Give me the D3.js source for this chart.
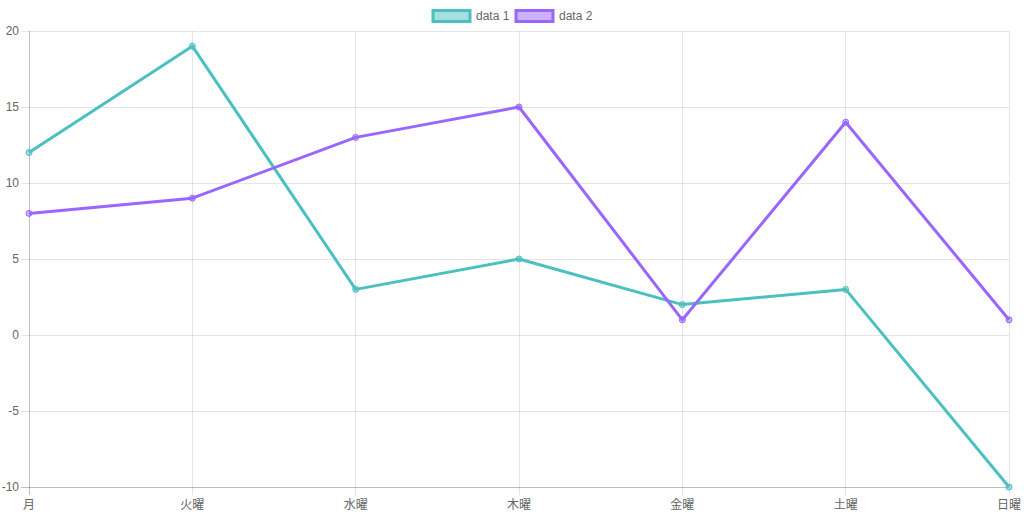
<!DOCTYPE html>
<html><head><meta charset="utf-8">
<script src="https://cdn.jsdelivr.net/npm/d3@7"></script>
<style>body{margin:0;background:#fff}svg{display:block}</style>
</head><body>
<svg id="c" width="1024" height="514"></svg>
<script>
const categories = ["月","火曜","水曜","木曜","金曜","土曜","日曜"];
const data1 = [12, 19, 3, 5, 2, 3, -10];
const data2 = [8, 9, 13, 15, 1, 14, 1];
const yTicks = [-10, -5, 0, 5, 10, 15, 20];
const seriesNames = ["data 1", "data 2"];
const colors = ["rgb(75,192,192)", "rgb(153,102,255)"];
const fills = ["rgba(75,192,192,0.5)", "rgba(153,102,255,0.5)"];

const svg = d3.select("#c");
const font = "'Liberation Sans', Arial, Helvetica, 'Noto Sans CJK JP', sans-serif";
const L = 29, R = 1009, T = 31, B = 487;
const x = d3.scalePoint().domain(categories).range([L, R]);
const y = d3.scaleLinear().domain([-10, 20]).range([B, T]);

const grid = svg.append("g");
yTicks.forEach(t => {
  grid.append("line").attr("x1", L - 8).attr("x2", R).attr("y1", y(t)).attr("y2", y(t))
    .attr("stroke", t === -10 ? "rgba(0,0,0,0.25)" : "rgba(0,0,0,0.1)").attr("stroke-width", 1)
    .attr("shape-rendering", "crispEdges");
  svg.append("text").attr("x", L - 10).attr("y", y(t)).attr("dy", "0.35em")
    .attr("text-anchor", "end").attr("font-family", font).attr("font-size", 12)
    .attr("fill", "#666").text(t);
});
categories.forEach((c, i) => {
  grid.append("line").attr("x1", x(c)).attr("x2", x(c)).attr("y1", T).attr("y2", B + 8)
    .attr("stroke", i === 0 ? "rgba(0,0,0,0.25)" : "rgba(0,0,0,0.1)").attr("stroke-width", 1)
    .attr("shape-rendering", "crispEdges");
  svg.append("text").attr("x", x(c)).attr("y", B + 18).attr("dy", "0.35em")
    .attr("text-anchor", "middle").attr("font-family", font).attr("font-size", 12)
    .attr("fill", "#666").text(c);
});

const line = d3.line().x((d, i) => x(categories[i])).y(d => y(d));
[data1, data2].forEach((ds, k) => {
  svg.append("path").attr("d", line(ds)).attr("fill", "none")
    .attr("stroke", colors[k]).attr("stroke-width", 3).attr("stroke-linejoin", "round");
  svg.selectAll(null).data(ds).enter().append("circle")
    .attr("cx", (d, i) => x(categories[i])).attr("cy", d => y(d)).attr("r", 3)
    .attr("fill", fills[k]).attr("stroke", colors[k]).attr("stroke-width", 1);
});

const legX = [433, 516];
seriesNames.forEach((n, k) => {
  svg.append("rect").attr("x", legX[k]).attr("y", 10.5).attr("width", 37).attr("height", 11)
    .attr("fill", fills[k]).attr("stroke", colors[k]).attr("stroke-width", 3);
  svg.append("text").attr("x", legX[k] + 43).attr("y", 16).attr("dy", "0.35em")
    .attr("font-family", font).attr("font-size", 12).attr("fill", "#666").text(n);
});
</script>
</body></html>
